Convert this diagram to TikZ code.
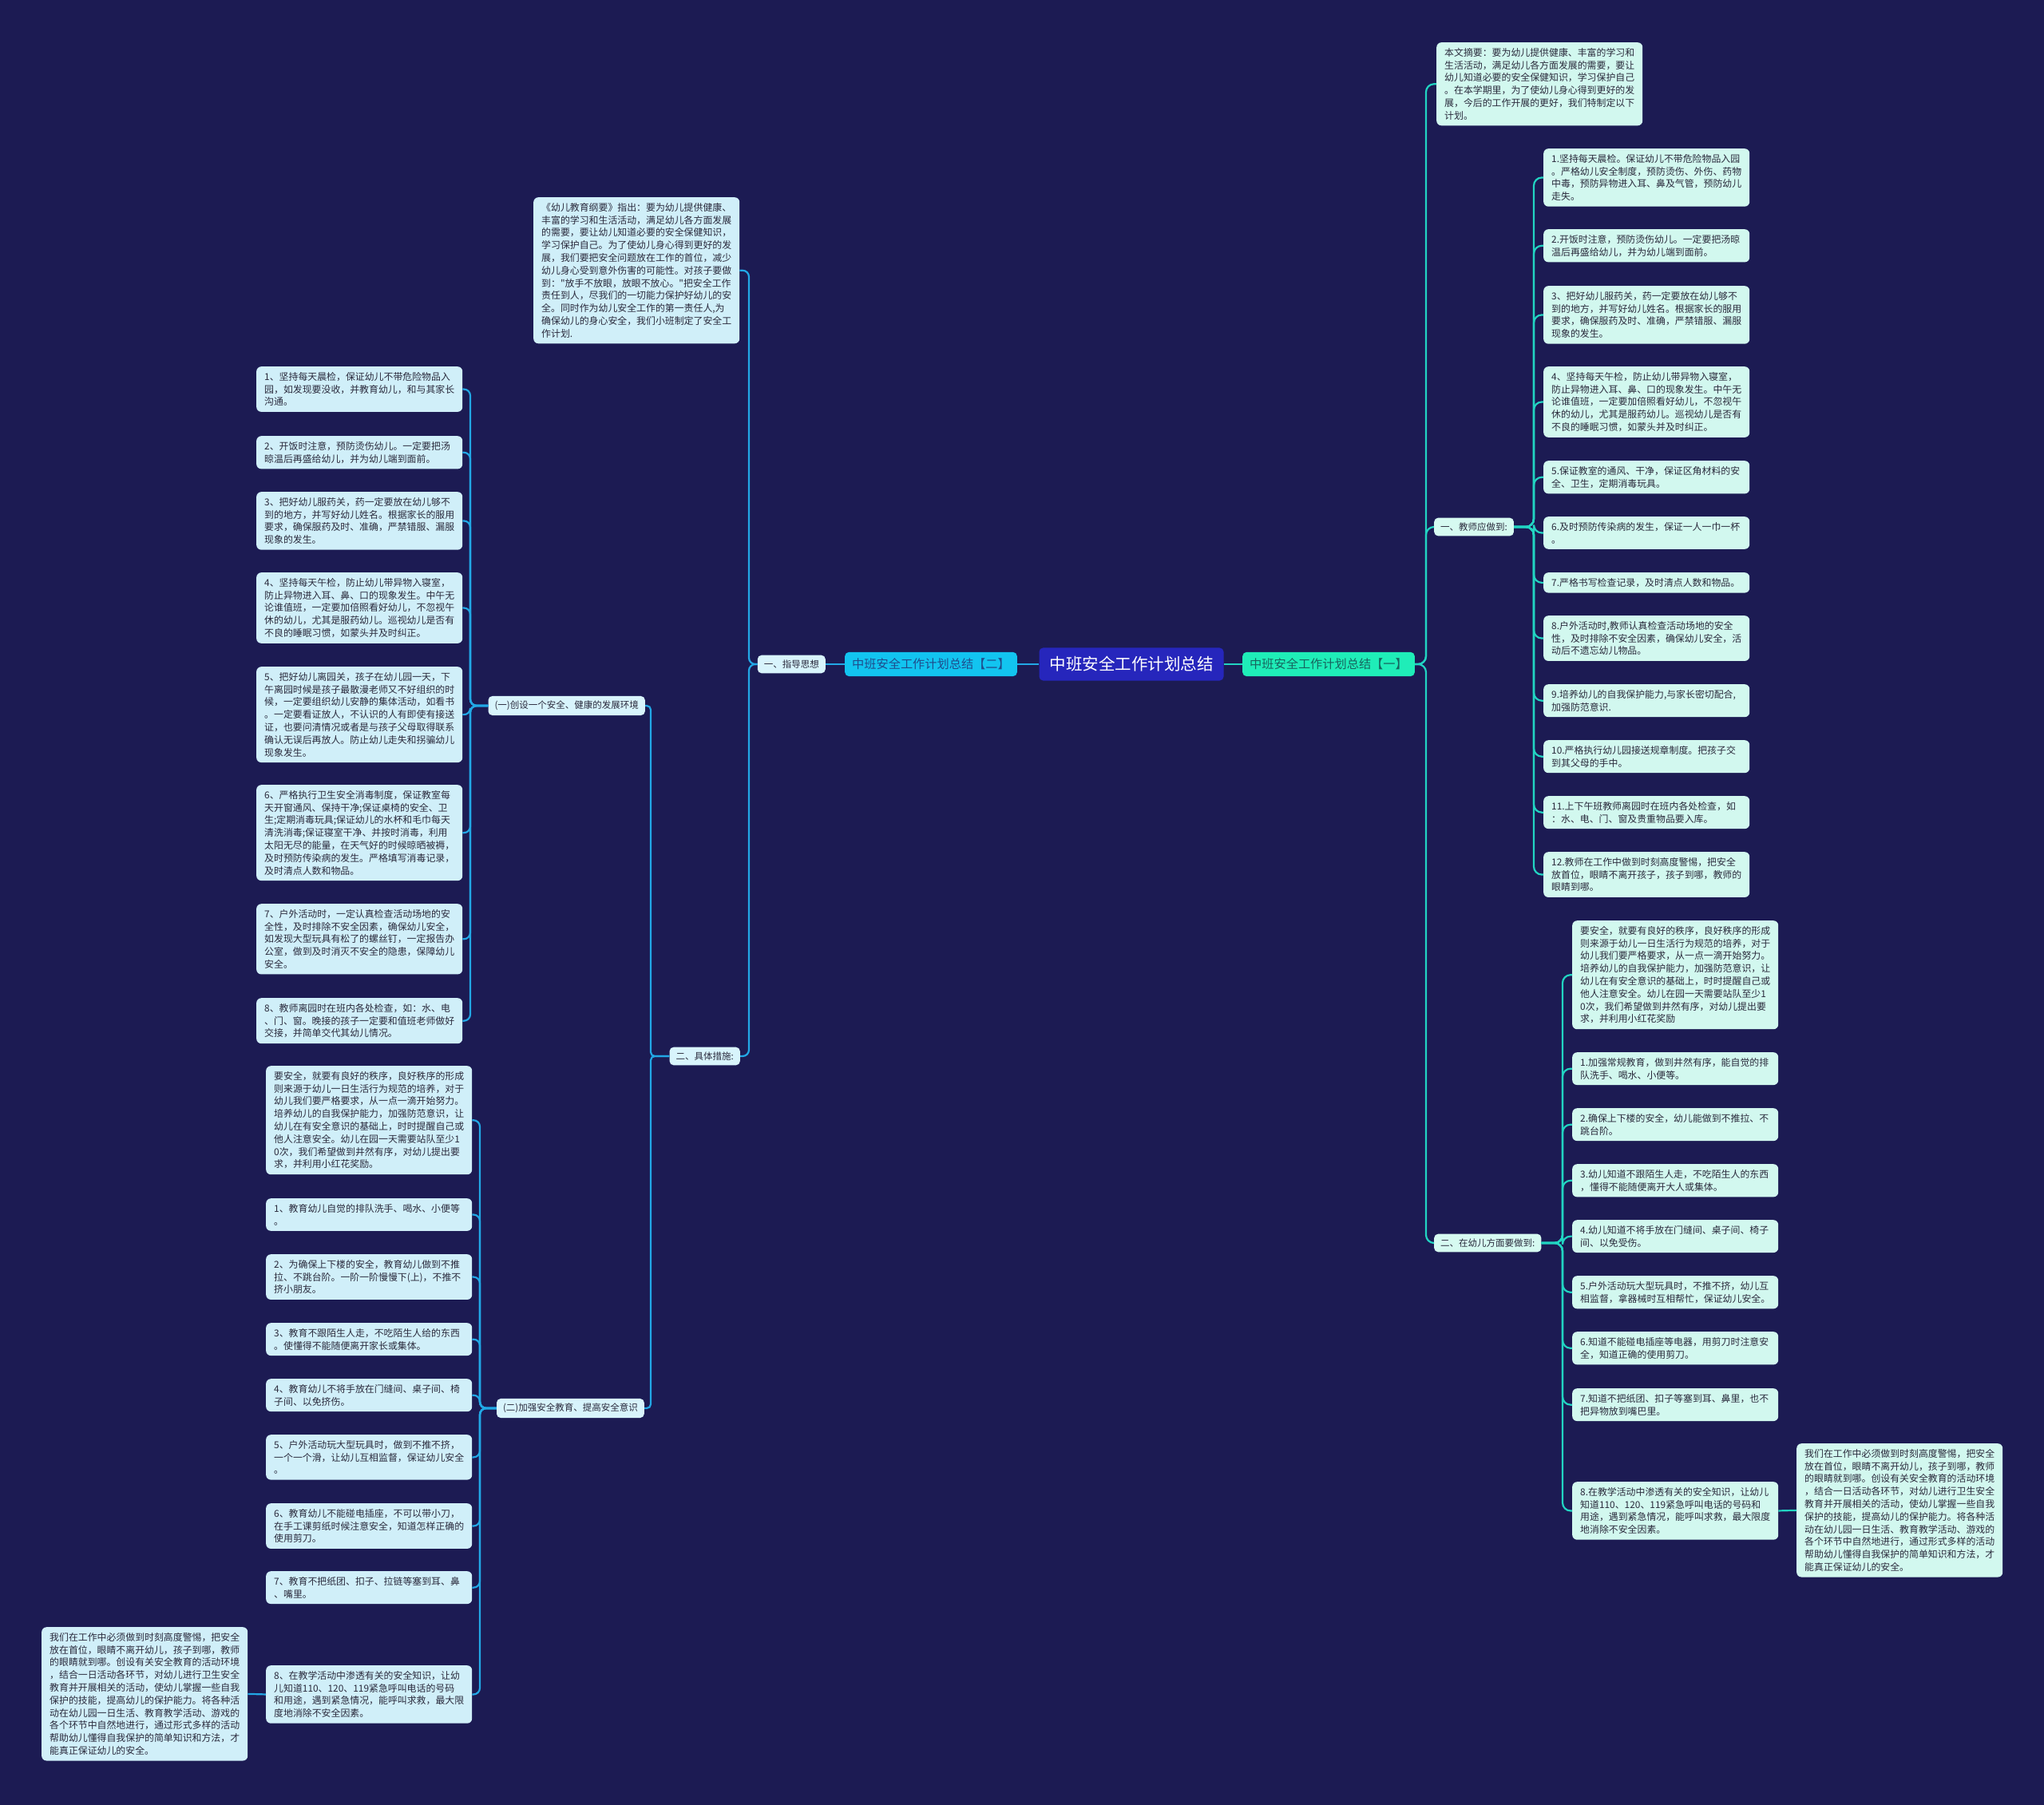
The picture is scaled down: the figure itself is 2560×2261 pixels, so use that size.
\documentclass[tikz,border=0pt]{standalone}
\usepackage{fontspec}
\newfontfamily\cjk{Noto Sans CJK SC}
\definecolor{bg}{HTML}{1C1B53}
\definecolor{lfill}{HTML}{D0EFF9}
\definecolor{rfill}{HTML}{D2F8EF}
\definecolor{ltagfill}{HTML}{D8F4FC}
\definecolor{rtagfill}{HTML}{D6FAF1}
\definecolor{boxtext}{HTML}{2A2A3C}
\definecolor{lline}{HTML}{22A8E6}
\definecolor{rline}{HTML}{22D4C2}
\definecolor{cfill}{HTML}{2626BC}
\definecolor{lbr}{HTML}{12C4F0}
\definecolor{rbr}{HTML}{1FEDB8}
\definecolor{lbrtext}{HTML}{1F4C8C}
\definecolor{rbrtext}{HTML}{17645E}
\begin{document}
\begin{tikzpicture}[x=1pt,y=-1pt,
  txtbox/.style={anchor=north west, rounded corners=6pt, inner xsep=10pt, inner ysep=7pt,
    text width=238pt, align=left, font=\cjk\fontsize{11.9}{15.8}\selectfont, text=boxtext},
  lbox/.style={txtbox, fill=lfill},
  rbox/.style={txtbox, fill=rfill},
  ltag/.style={rounded corners=5pt, fill=ltagfill, text=boxtext,
    font=\cjk\fontsize{11.5}{13}\selectfont, inner xsep=8pt, inner ysep=6pt},
  rtag/.style={ltag, fill=rtagfill},
  lconn/.style={draw=lline, line width=2.2pt, rounded corners=10pt},
  rconn/.style={draw=rline, line width=2.2pt, rounded corners=10pt}]
\useasboundingbox (0,0) rectangle (2560,2261);
\fill[bg] (0,0) rectangle (2560,2261);

% ---------- centre ----------
\node[fill=cfill, rounded corners=5pt, text=white,
  font=\cjk\fontsize{20.5}{24}\selectfont, inner xsep=13pt, inner ysep=11pt] (C) at (1417,832) {中班安全工作计划总结};
\node[fill=lbr, rounded corners=5pt, text=lbrtext, font=\cjk\fontsize{15.2}{18}\selectfont,
  inner xsep=9pt, inner ysep=8pt] (B2) at (1166,832) {中班安全工作计划总结【二】};
\node[fill=rbr, rounded corners=5pt, text=rbrtext, font=\cjk\fontsize{15.2}{18}\selectfont,
  inner xsep=9pt, inner ysep=8pt] (B1) at (1664,832) {中班安全工作计划总结【一】};

% ---------- left tags ----------
\node[ltag, anchor=east] (A1) at (1034,832) {一、指导思想};
\node[ltag, anchor=east] (A2) at (927,1323) {二、具体措施:};
\node[ltag, anchor=east] (A3) at (808,884) {(一)创设一个安全、健康的发展环境};
\node[ltag, anchor=east] (A4) at (807,1764) {(二)加强安全教育、提高安全意识};

% ---------- right tags ----------
\node[rtag, anchor=west] (E1) at (1796,660) {一、教师应做到:};
\node[rtag, anchor=west] (E2) at (1796,1557) {二、在幼儿方面要做到:};

% ---------- left boxes ----------
\node[lbox] (T0) at (668,247) {《幼儿教育纲要》指出：要为幼儿提供健康、\\丰富的学习和生活活动，满足幼儿各方面发展\\的需要，要让幼儿知道必要的安全保健知识，\\学习保护自己。为了使幼儿身心得到更好的发\\展，我们要把安全问题放在工作的首位，减少\\幼儿身心受到意外伤害的可能性。对孩子要做\\到："放手不放眼，放眼不放心。"把安全工作\\责任到人，尽我们的一切能力保护好幼儿的安\\全。同时作为幼儿安全工作的第一责任人,为\\确保幼儿的身心安全，我们小班制定了安全工\\作计划.};

\node[lbox] (L1) at (321,459) {1、坚持每天晨检，保证幼儿不带危险物品入\\园，如发现要没收，并教育幼儿，和与其家长\\沟通。};
\node[lbox] (L2) at (321,546) {2、开饭时注意，预防烫伤幼儿。一定要把汤\\晾温后再盛给幼儿，并为幼儿端到面前。};
\node[lbox] (L3) at (321,616) {3、把好幼儿服药关，药一定要放在幼儿够不\\到的地方，并写好幼儿姓名。根据家长的服用\\要求，确保服药及时、准确，严禁错服、漏服\\现象的发生。};
\node[lbox] (L4) at (321,717) {4、坚持每天午检，防止幼儿带异物入寝室，\\防止异物进入耳、鼻、口的现象发生。中午无\\论谁值班，一定要加倍照看好幼儿，不忽视午\\休的幼儿，尤其是服药幼儿。巡视幼儿是否有\\不良的睡眠习惯，如蒙头并及时纠正。};
\node[lbox] (L5) at (321,835) {5、把好幼儿离园关，孩子在幼儿园一天，下\\午离园时候是孩子最散漫老师又不好组织的时\\候，一定要组织幼儿安静的集体活动，如看书\\。一定要看证放人，不认识的人有即使有接送\\证，也要问清情况或者是与孩子父母取得联系\\确认无误后再放人。防止幼儿走失和拐骗幼儿\\现象发生。};
\node[lbox] (L6) at (321,983) {6、严格执行卫生安全消毒制度，保证教室每\\天开窗通风、保持干净;保证桌椅的安全、卫\\生;定期消毒玩具;保证幼儿的水杯和毛巾每天\\清洗消毒;保证寝室干净、并按时消毒，利用\\太阳无尽的能量，在天气好的时候晾晒被褥，\\及时预防传染病的发生。严格填写消毒记录，\\及时清点人数和物品。};
\node[lbox] (L7) at (321,1132) {7、户外活动时，一定认真检查活动场地的安\\全性，及时排除不安全因素，确保幼儿安全，\\如发现大型玩具有松了的螺丝钉，一定报告办\\公室，做到及时消灭不安全的隐患，保障幼儿\\安全。};
\node[lbox] (L8) at (321,1250) {8、教师离园时在班内各处检查，如：水、电\\、门、窗。晚接的孩子一定要和值班老师做好\\交接，并简单交代其幼儿情况。};

\node[lbox] (M0) at (333,1335) {要安全，就要有良好的秩序，良好秩序的形成\\则来源于幼儿一日生活行为规范的培养，对于\\幼儿我们要严格要求，从一点一滴开始努力。\\培养幼儿的自我保护能力，加强防范意识，让\\幼儿在有安全意识的基础上，时时提醒自己或\\他人注意安全。幼儿在园一天需要站队至少1\\0次，我们希望做到井然有序，对幼儿提出要\\求，并利用小红花奖励。};
\node[lbox] (M1) at (333,1501) {1、教育幼儿自觉的排队洗手、喝水、小便等\\。};
\node[lbox] (M2) at (333,1571) {2、为确保上下楼的安全，教育幼儿做到不推\\拉、不跳台阶。一阶一阶慢慢下(上)，不推不\\挤小朋友。};
\node[lbox] (M3) at (333,1657) {3、教育不跟陌生人走，不吃陌生人给的东西\\。使懂得不能随便离开家长或集体。};
\node[lbox] (M4) at (333,1727) {4、教育幼儿不将手放在门缝间、桌子间、椅\\子间、以免挤伤。};
\node[lbox] (M5) at (333,1797) {5、户外活动玩大型玩具时，做到不推不挤，\\一个一个滑，让幼儿互相监督，保证幼儿安全\\。};
\node[lbox] (M6) at (333,1883) {6、教育幼儿不能碰电插座，不可以带小刀，\\在手工课剪纸时候注意安全，知道怎样正确的\\使用剪刀。};
\node[lbox] (M7) at (333,1968) {7、教育不把纸团、扣子、拉链等塞到耳、鼻\\、嘴里。};
\node[lbox] (M8) at (333,2086) {8、在教学活动中渗透有关的安全知识，让幼\\儿知道110、120、119紧急呼叫电话的号码\\和用途，遇到紧急情况，能呼叫求救，最大限\\度地消除不安全因素。};
\node[lbox] (BL) at (52,2038) {我们在工作中必须做到时刻高度警惕，把安全\\放在首位，眼睛不离开幼儿，孩子到哪，教师\\的眼睛就到哪。创设有关安全教育的活动环境\\，结合一日活动各环节，对幼儿进行卫生安全\\教育并开展相关的活动，使幼儿掌握一些自我\\保护的技能，提高幼儿的保护能力。将各种活\\动在幼儿园一日生活、教育教学活动、游戏的\\各个环节中自然地进行，通过形式多样的活动\\帮助幼儿懂得自我保护的简单知识和方法，才\\能真正保证幼儿的安全。};

% ---------- right boxes ----------
\node[rbox] (S0) at (1799,53) {本文摘要：要为幼儿提供健康、丰富的学习和\\生活活动，满足幼儿各方面发展的需要，要让\\幼儿知道必要的安全保健知识，学习保护自己\\。在本学期里，为了使幼儿身心得到更好的发\\展，今后的工作开展的更好，我们特制定以下\\计划。};

\node[rbox] (R1) at (1933,186) {1.坚持每天晨检。保证幼儿不带危险物品入园\\。严格幼儿安全制度，预防烫伤、外伤、药物\\中毒，预防异物进入耳、鼻及气管，预防幼儿\\走失。};
\node[rbox] (R2) at (1933,287) {2.开饭时注意，预防烫伤幼儿。一定要把汤晾\\温后再盛给幼儿，并为幼儿端到面前。};
\node[rbox] (R3) at (1933,358) {3、把好幼儿服药关，药一定要放在幼儿够不\\到的地方，并写好幼儿姓名。根据家长的服用\\要求，确保服药及时、准确，严禁错服、漏服\\现象的发生。};
\node[rbox] (R4) at (1933,459) {4、坚持每天午检，防止幼儿带异物入寝室，\\防止异物进入耳、鼻、口的现象发生。中午无\\论谁值班，一定要加倍照看好幼儿，不忽视午\\休的幼儿，尤其是服药幼儿。巡视幼儿是否有\\不良的睡眠习惯，如蒙头并及时纠正。};
\node[rbox] (R5) at (1933,577) {5.保证教室的通风、干净，保证区角材料的安\\全、卫生，定期消毒玩具。};
\node[rbox] (R6) at (1933,647) {6.及时预防传染病的发生，保证一人一巾一杯\\。};
\node[rbox] (R7) at (1933,717) {7.严格书写检查记录，及时清点人数和物品。};
\node[rbox] (R8) at (1933,771) {8.户外活动时,教师认真检查活动场地的安全\\性，及时排除不安全因素，确保幼儿安全，活\\动后不遗忘幼儿物品。};
\node[rbox] (R9) at (1933,857) {9.培养幼儿的自我保护能力,与家长密切配合,\\加强防范意识.};
\node[rbox] (R10) at (1933,927) {10.严格执行幼儿园接送规章制度。把孩子交\\到其父母的手中。};
\node[rbox] (R11) at (1933,997) {11.上下午班教师离园时在班内各处检查，如\\：水、电、门、窗及贵重物品要入库。};
\node[rbox] (R12) at (1933,1067) {12.教师在工作中做到时刻高度警惕，把安全\\放首位，眼睛不离开孩子，孩子到哪，教师的\\眼睛到哪。};

\node[rbox] (Q0) at (1969,1153) {要安全，就要有良好的秩序，良好秩序的形成\\则来源于幼儿一日生活行为规范的培养，对于\\幼儿我们要严格要求，从一点一滴开始努力。\\培养幼儿的自我保护能力，加强防范意识，让\\幼儿在有安全意识的基础上，时时提醒自己或\\他人注意安全。幼儿在园一天需要站队至少1\\0次，我们希望做到井然有序，对幼儿提出要\\求，并利用小红花奖励};
\node[rbox] (Q1) at (1969,1318) {1.加强常规教育，做到井然有序，能自觉的排\\队洗手、喝水、小便等。};
\node[rbox] (Q2) at (1969,1388) {2.确保上下楼的安全，幼儿能做到不推拉、不\\跳台阶。};
\node[rbox] (Q3) at (1969,1458) {3.幼儿知道不跟陌生人走，不吃陌生人的东西\\，懂得不能随便离开大人或集体。};
\node[rbox] (Q4) at (1969,1528) {4.幼儿知道不将手放在门缝间、桌子间、椅子\\间、以免受伤。};
\node[rbox] (Q5) at (1969,1598) {5.户外活动玩大型玩具时，不推不挤，幼儿互\\相监督，拿器械时互相帮忙，保证幼儿安全。};
\node[rbox] (Q6) at (1969,1668) {6.知道不能碰电插座等电器，用剪刀时注意安\\全，知道正确的使用剪刀。};
\node[rbox] (Q7) at (1969,1739) {7.知道不把纸团、扣子等塞到耳、鼻里，也不\\把异物放到嘴巴里。};
\node[rbox] (Q8) at (1969,1856) {8.在教学活动中渗透有关的安全知识，让幼儿\\知道110、120、119紧急呼叫电话的号码和\\用途，遇到紧急情况，能呼叫求救，最大限度\\地消除不安全因素。};
\node[rbox] (RB) at (2250,1808) {我们在工作中必须做到时刻高度警惕，把安全\\放在首位，眼睛不离开幼儿，孩子到哪，教师\\的眼睛就到哪。创设有关安全教育的活动环境\\，结合一日活动各环节，对幼儿进行卫生安全\\教育并开展相关的活动，使幼儿掌握一些自我\\保护的技能，提高幼儿的保护能力。将各种活\\动在幼儿园一日生活、教育教学活动、游戏的\\各个环节中自然地进行，通过形式多样的活动\\帮助幼儿懂得自我保护的简单知识和方法，才\\能真正保证幼儿的安全。};

% ---------- trunks ----------
\coordinate (tA1) at (938,0);
\coordinate (tA2) at (815,0);
\coordinate (tA3) at (589,0);
\coordinate (tA4) at (601,0);
\coordinate (tB1) at (1786,0);
\coordinate (tE1) at (1921,0);
\coordinate (tE2) at (1957,0);

% ---------- connectors ----------
\draw[lconn] (C.west) -- (B2.east);
\draw[rconn] (C.east) -- (B1.west);
\draw[lconn] (B2.west) -- (A1.east);
\foreach \c in {T0,A2}
  \draw[lconn, rounded corners=8pt] (A1.west) -- (A1.west -| tA1) |- (\c.east);
\foreach \c in {A3,A4}
  \draw[lconn, rounded corners=5pt] (A2.west) -- (A2.west -| tA2) |- (\c.east);
\foreach \c in {L1,L2,L3,L4,L5,L6,L7,L8}
  \draw[lconn, rounded corners=8pt] (A3.west) -- (A3.west -| tA3) |- (\c.east);
\foreach \c in {M0,M1,M2,M3,M4,M5,M6,M7,M8}
  \draw[lconn, rounded corners=8pt] (A4.west) -- (A4.west -| tA4) |- (\c.east);
\draw[lconn] (M8.west) -- (BL.east);
\foreach \c in {S0,E1,E2}
  \draw[rconn, rounded corners=10pt] (B1.east) -- (B1.east -| tB1) |- (\c.west);
\foreach \c in {R1,R2,R3,R4,R5,R6,R7,R8,R9,R10,R11,R12}
  \draw[rconn, rounded corners=10pt] (E1.east) -- (E1.east -| tE1) |- (\c.west);
\foreach \c in {Q0,Q1,Q2,Q3,Q4,Q5,Q6,Q7,Q8}
  \draw[rconn, rounded corners=10pt] (E2.east) -- (E2.east -| tE2) |- (\c.west);
\draw[rconn] (Q8.east) -- (RB.west);
\end{tikzpicture}
\end{document}
